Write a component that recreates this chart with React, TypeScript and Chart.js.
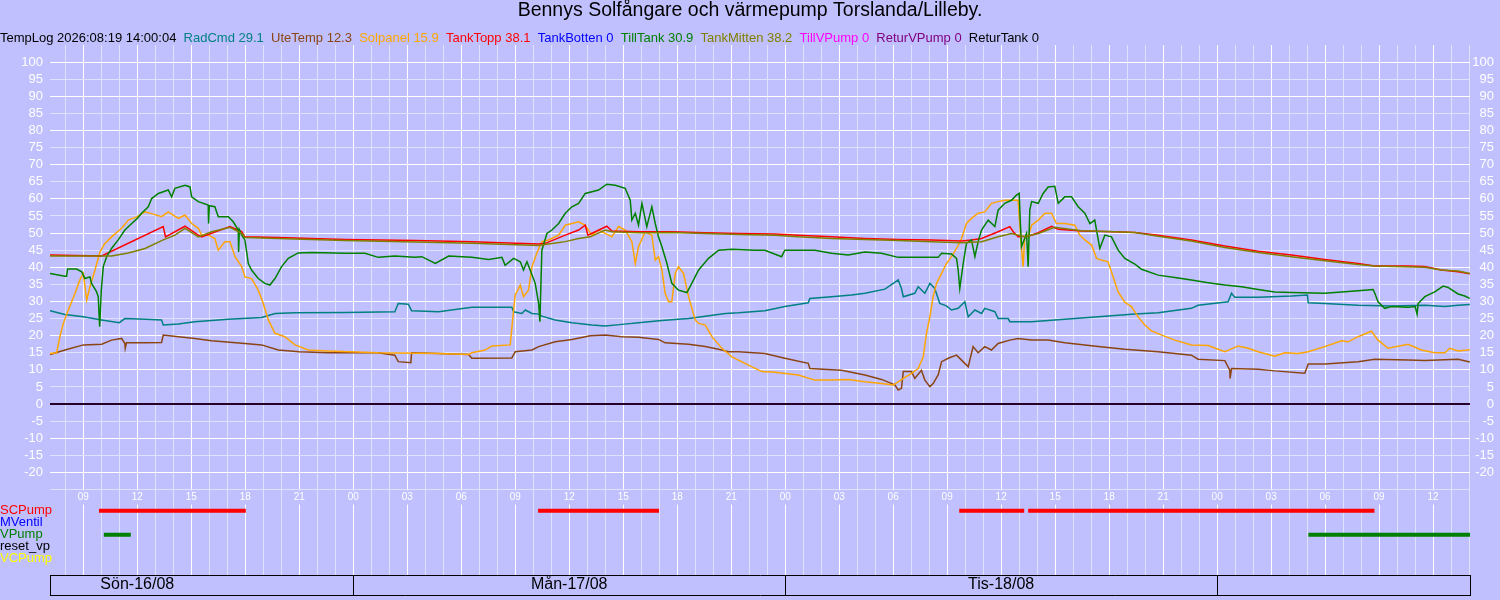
import React, { useEffect, useRef } from 'react';
import { Chart, registerables } from 'chart.js';

Chart.register(...registerables);

const FONT = "'Liberation Sans', Arial, sans-serif";
const BG = '#c0c0ff';
const GRID_MAJOR = '#ffffff';
const GRID_MINOR = '#e0e0ff';

const chartTitle = 'Bennys Solfångare och värmepump Torslanda/Lilleby.';
const logStamp = 'TempLog 2026:08:19 14:00:04';

// time axis: hours counted from Sön 16/08 00:00
const hourMin = 7.15;
const hourMax = 86.05;
const dayNames = ['Sön-16/08', 'Mån-17/08', 'Tis-18/08', ''];
const dayNoons = [12, 36, 60, 84];
const dayBounds = [24, 48, 72];

// [hour, °C]
const radCmd = [
  [7.15, 27.3], [7.98, 26.2], [9.0, 25.5], [10.02, 24.6], [11.0, 23.8], [11.31, 25.0], [12.43, 24.8], [13.35, 24.6], [13.44, 23.1],
  [14.28, 23.4], [15.2, 24.1], [17.06, 24.8], [18.91, 25.3], [19.65, 26.5], [20.76, 26.7], [23.54, 26.8], [26.31, 27.0], [26.5, 29.4],
  [27.06, 29.2], [27.24, 27.3], [28.74, 27.0], [30.59, 28.3], [32.81, 28.3], [32.91, 27.0], [33.37, 26.5], [33.56, 27.5], [33.93, 26.5],
  [34.3, 26.3], [34.48, 25.7], [35.22, 24.6], [36.15, 23.8], [37.26, 23.1], [38.0, 22.8], [38.93, 23.3], [39.85, 23.8], [41.15, 24.4],
  [42.63, 25.0], [43.56, 25.7], [44.67, 26.5], [45.41, 26.7], [46.87, 27.3], [47.98, 28.5], [49.28, 29.6], [49.37, 30.9], [50.57, 31.4],
  [51.69, 31.9], [52.43, 32.4], [53.54, 33.6], [54.28, 36.3], [54.46, 33.8], [54.56, 31.4], [55.2, 32.4], [55.39, 34.3], [55.76, 32.4],
  [56.04, 35.3], [56.31, 33.8], [56.59, 29.4], [56.96, 28.7], [57.24, 27.5], [57.61, 28.0], [57.98, 29.9], [58.17, 25.5], [58.54, 27.5],
  [58.91, 26.5], [59.09, 28.0], [59.65, 27.0], [59.83, 25.0], [60.39, 25.0], [60.48, 24.1], [61.69, 24.1], [63.54, 24.8], [65.39, 25.5],
  [67.43, 26.3], [68.72, 26.7], [70.57, 28.0], [70.94, 28.9], [72.61, 29.9], [72.8, 32.4], [72.98, 31.2], [74.28, 31.2], [76.13, 31.6],
  [77.02, 31.9], [77.06, 29.6], [77.98, 29.4], [79.83, 28.9], [81.69, 28.7], [83.54, 28.9], [84.65, 28.5], [85.39, 28.9], [86.04, 29.1],
];

const uteTemp = [
  [7.15, 14.5], [7.98, 15.8], [9.0, 17.3], [10.02, 17.5], [10.57, 18.7], [11.13, 19.2], [11.31, 17.7], [11.33, 16.3], [11.4, 17.9],
  [12.43, 17.9], [13.35, 18.0], [13.44, 20.2], [14.28, 19.7], [15.2, 19.2], [16.13, 18.5], [17.98, 17.7], [18.91, 17.3], [19.83, 15.8],
  [21.0, 15.3], [22.61, 15.0], [25.39, 15.0], [26.31, 14.3], [26.5, 12.4], [27.2, 12.1], [27.24, 15.0], [28.74, 14.8], [30.41, 14.5],
  [30.59, 13.4], [32.81, 13.5], [33.0, 15.3], [33.93, 15.8], [34.3, 16.8], [35.22, 18.2], [36.15, 18.9], [37.17, 20.0], [38.0, 20.2],
  [38.93, 19.7], [39.85, 19.5], [40.96, 18.9], [41.33, 17.9], [42.63, 17.5], [43.56, 16.8], [44.48, 15.8], [44.85, 15.3], [45.41, 15.3],
  [46.87, 14.8], [47.98, 13.4], [49.28, 11.9], [49.37, 10.4], [51.13, 9.9], [52.43, 8.5], [53.35, 7.2], [54.09, 5.6], [54.28, 4.1],
  [54.46, 4.6], [54.56, 9.5], [55.02, 9.5], [55.2, 7.5], [55.57, 9.9], [55.76, 7.0], [56.04, 5.1], [56.22, 6.0], [56.5, 8.5],
  [56.69, 12.4], [57.06, 13.4], [57.52, 14.3], [57.98, 11.9], [58.17, 10.9], [58.44, 16.8], [58.72, 15.0], [59.09, 16.8], [59.46, 15.8],
  [59.83, 17.7], [60.48, 18.7], [60.94, 19.2], [61.69, 18.7], [62.61, 18.7], [63.54, 17.9], [65.39, 16.8], [66.87, 16.0], [68.72, 15.3],
  [70.57, 14.3], [70.94, 13.1], [72.43, 12.7], [72.7, 9.9], [72.72, 7.5], [72.8, 10.4], [74.28, 10.2], [75.2, 9.7], [76.87, 9.0],
  [77.06, 11.7], [77.98, 11.7], [79.83, 12.4], [80.76, 13.1], [82.61, 12.9], [83.54, 12.7], [85.39, 13.1], [86.04, 12.3],
];

const solpanel = [
  [7.15, 14.8], [7.52, 15.0], [7.7, 19.7], [7.89, 23.6], [8.17, 27.5], [8.54, 32.4], [8.81, 36.3], [9.0, 38.2], [9.19, 30.4],
  [9.37, 34.3], [9.65, 39.2], [9.93, 44.5], [10.2, 47.0], [10.57, 48.9], [11.13, 51.4], [11.5, 53.8], [12.0, 54.8], [12.43, 56.2],
  [12.8, 55.7], [13.35, 54.8], [13.72, 56.2], [14.28, 54.3], [14.65, 55.3], [15.02, 52.8], [15.39, 51.4], [15.57, 49.4], [15.94, 49.4],
  [16.31, 48.4], [16.5, 45.0], [16.87, 47.5], [17.15, 47.5], [17.43, 43.1], [17.8, 40.2], [17.98, 37.2], [18.35, 36.7], [18.72, 33.3],
  [19.0, 29.4], [19.28, 24.6], [19.65, 20.7], [20.2, 19.7], [20.76, 17.3], [21.5, 15.8], [22.61, 15.5], [25.39, 15.0], [28.74, 14.8],
  [30.41, 14.5], [30.59, 15.0], [31.33, 15.8], [31.7, 17.0], [32.72, 17.3], [32.91, 27.5], [33.0, 31.9], [33.28, 34.8], [33.46, 31.4],
  [33.74, 33.3], [33.93, 40.2], [34.2, 44.1], [34.48, 47.5], [34.85, 48.0], [35.41, 49.4], [35.78, 52.3], [36.15, 52.8], [36.52, 53.3],
  [36.89, 52.3], [37.26, 49.4], [37.63, 50.9], [38.0, 49.9], [38.37, 48.9], [38.74, 51.9], [39.11, 50.9], [39.48, 47.5], [39.67, 41.1],
  [39.85, 46.0], [40.22, 50.4], [40.59, 49.4], [40.78, 42.1], [40.96, 43.1], [41.15, 39.2], [41.33, 32.4], [41.52, 29.9], [41.7, 29.9],
  [41.89, 38.2], [42.07, 40.2], [42.35, 38.2], [42.63, 31.4], [43.0, 24.6], [43.19, 23.6], [43.56, 23.1], [43.93, 19.7], [44.48, 16.3],
  [45.04, 13.8], [45.96, 11.4], [46.7, 9.5], [47.44, 9.3], [48.72, 8.5], [49.65, 7.0], [50.57, 7.0], [51.5, 7.2], [52.43, 6.5],
  [53.35, 6.0], [54.0, 5.6], [54.28, 6.5], [54.65, 7.8], [55.02, 9.0], [55.39, 10.4], [55.67, 13.8], [55.85, 20.7], [56.04, 25.5],
  [56.22, 31.4], [56.41, 35.3], [56.69, 38.2], [56.96, 41.1], [57.24, 43.1], [57.52, 45.5], [57.8, 48.4], [58.07, 52.8], [58.35, 54.3],
  [58.72, 55.8], [59.09, 56.2], [59.46, 58.7], [59.83, 59.2], [60.2, 59.6], [60.94, 59.6], [61.09, 48.0], [61.22, 40.2], [61.31, 48.9],
  [61.5, 48.9], [61.69, 52.3], [62.06, 53.8], [62.43, 55.8], [62.8, 55.8], [63.07, 52.8], [63.54, 52.8], [64.09, 52.3], [64.37, 49.4],
  [64.65, 48.0], [65.02, 46.5], [65.3, 42.6], [65.57, 42.1], [65.94, 41.6], [66.22, 37.2], [66.5, 32.8], [66.87, 29.8], [67.24, 28.5],
  [67.61, 25.5], [67.98, 23.1], [68.35, 21.4], [69.0, 20.0], [69.65, 18.7], [70.57, 17.3], [71.5, 17.1], [72.43, 15.3], [73.17, 17.0],
  [73.72, 16.3], [74.28, 15.3], [75.2, 14.0], [75.76, 15.0], [76.5, 14.8], [77.06, 15.3], [77.98, 16.8], [78.91, 18.5], [79.28, 18.2],
  [79.83, 19.7], [80.57, 21.3], [80.94, 18.7], [81.5, 16.3], [82.61, 17.5], [83.35, 15.8], [84.09, 15.0], [84.65, 15.0], [84.93, 16.3],
  [85.39, 15.5], [86.04, 15.9],
];

const tankTopp = [
  [7.15, 43.6], [10.02, 43.3], [13.44, 51.9], [13.57, 48.9], [14.65, 52.0], [15.39, 49.4], [15.57, 48.9], [17.15, 51.9], [17.8, 50.4],
  [17.98, 48.9], [19.83, 48.7], [23.54, 48.1], [27.43, 47.8], [30.59, 47.5], [34.3, 46.8], [34.67, 47.0], [35.78, 49.4], [36.52, 50.9],
  [36.89, 52.3], [37.04, 49.4], [38.09, 52.0], [38.37, 50.6], [39.85, 50.4], [41.7, 50.4], [43.56, 50.1], [45.41, 49.9], [47.44, 49.7],
  [48.72, 49.4], [50.57, 48.9], [52.43, 48.4], [54.28, 48.1], [56.13, 48.0], [57.8, 47.7], [58.35, 48.0], [58.91, 48.4], [59.83, 50.4],
  [60.48, 51.9], [60.67, 50.4], [60.94, 48.9], [61.5, 49.1], [62.06, 50.1], [62.8, 52.0], [63.17, 51.1], [64.46, 50.6], [66.31, 50.4],
  [67.43, 50.2], [68.72, 49.4], [70.57, 48.0], [72.43, 46.2], [74.28, 44.7], [76.13, 43.6], [77.98, 42.3], [79.83, 41.1], [80.76, 40.4],
  [82.61, 40.4], [83.54, 40.2], [84.46, 39.2], [85.39, 38.7], [86.04, 38.1],
];

const tankBotten = [[7.15, 0], [86.04, 0]];

const tillTank = [
  [7.15, 38.2], [7.98, 37.4], [8.07, 37.4], [8.13, 39.5], [8.63, 39.5], [8.91, 38.7], [9.09, 36.7], [9.37, 37.2], [9.46, 35.3],
  [9.74, 32.8], [9.83, 31.4], [9.91, 22.6], [10.0, 33.3], [10.11, 40.2], [10.3, 43.1], [10.57, 45.5], [10.94, 48.0], [11.31, 50.9],
  [11.69, 52.8], [12.0, 54.3], [12.24, 55.8], [12.61, 57.7], [12.8, 60.1], [13.17, 61.6], [13.72, 62.6], [13.91, 60.6], [14.09, 63.1],
  [14.65, 64.0], [14.93, 63.5], [15.02, 60.6], [15.39, 59.2], [15.94, 58.2], [15.96, 52.8], [16.0, 58.0], [16.31, 57.7], [16.5, 54.8],
  [17.06, 54.8], [17.33, 53.3], [17.61, 50.9], [17.63, 44.5], [17.67, 51.0], [17.8, 49.4], [17.98, 48.0], [18.17, 41.1], [18.35, 39.2],
  [18.72, 36.7], [19.09, 35.3], [19.37, 34.8], [19.65, 36.7], [20.02, 40.2], [20.39, 42.6], [20.94, 44.2], [21.69, 44.3], [23.54, 44.1],
  [24.65, 44.1], [25.39, 42.9], [26.31, 43.3], [27.43, 42.9], [27.81, 43.1], [28.56, 41.1], [29.3, 43.3], [30.59, 42.9], [31.52, 42.3],
  [32.26, 42.9], [32.44, 40.6], [32.91, 42.6], [33.28, 41.6], [33.46, 39.2], [33.65, 41.6], [33.83, 39.2], [34.11, 35.3], [34.3, 29.4],
  [34.37, 24.1], [34.48, 45.0], [34.76, 49.9], [35.04, 50.9], [35.41, 52.8], [35.78, 55.8], [36.15, 57.7], [36.52, 58.7], [36.89, 61.6],
  [37.63, 62.6], [38.09, 64.3], [38.56, 64.0], [39.11, 63.1], [39.39, 59.6], [39.48, 53.8], [39.67, 55.8], [39.85, 52.3], [40.04, 58.7],
  [40.31, 51.9], [40.59, 57.7], [40.78, 52.8], [40.96, 48.9], [41.15, 46.0], [41.43, 41.1], [41.7, 35.3], [42.07, 33.3], [42.54, 32.6],
  [42.81, 35.3], [43.19, 39.2], [43.74, 42.6], [44.3, 45.0], [45.04, 45.3], [46.33, 45.0], [46.87, 45.0], [47.8, 43.1], [47.98, 45.0],
  [49.65, 45.0], [50.57, 44.1], [51.5, 43.6], [52.43, 44.5], [53.35, 44.1], [54.28, 42.9], [56.5, 42.9], [56.69, 44.1], [57.24, 43.9],
  [57.52, 42.6], [57.61, 39.2], [57.7, 33.8], [57.89, 41.1], [58.07, 47.0], [58.35, 48.0], [58.54, 43.1], [58.72, 47.5], [58.91, 50.9],
  [59.28, 53.8], [59.65, 51.9], [59.83, 56.7], [60.2, 58.7], [60.57, 59.6], [60.85, 61.1], [61.0, 61.6], [61.06, 53.8], [61.13, 46.0],
  [61.41, 49.9], [61.5, 40.2], [61.59, 56.7], [61.69, 59.2], [62.06, 58.7], [62.33, 61.6], [62.61, 63.5], [62.98, 63.7], [63.17, 58.7],
  [63.54, 60.6], [63.91, 60.6], [64.28, 57.7], [64.65, 55.8], [64.93, 52.8], [65.2, 53.8], [65.48, 45.5], [65.76, 49.4], [66.13, 48.9],
  [66.5, 45.0], [66.87, 42.6], [67.43, 40.9], [67.8, 39.4], [68.72, 37.7], [69.65, 37.0], [70.57, 36.3], [71.5, 35.5], [72.43, 34.8],
  [73.35, 34.3], [74.28, 33.5], [75.2, 32.8], [76.13, 32.6], [77.98, 32.4], [79.83, 33.1], [80.67, 33.5], [80.76, 32.4], [80.94, 29.9],
  [81.31, 28.0], [81.69, 28.5], [82.61, 28.3], [83.0, 28.5], [83.11, 26.3], [83.17, 29.4], [83.54, 31.4], [84.09, 32.8], [84.56, 34.5],
  [84.83, 34.1], [85.39, 32.2], [85.76, 31.6], [86.04, 30.9],
];

const tankMitten = [
  [7.15, 43.3], [10.57, 43.3], [11.5, 44.2], [12.43, 45.5], [13.44, 48.0], [14.09, 49.4], [14.65, 51.4], [15.39, 48.9], [16.13, 50.4],
  [17.15, 51.7], [17.8, 49.9], [17.98, 48.7], [19.83, 48.4], [23.54, 47.8], [27.43, 47.4], [30.59, 47.0], [34.3, 46.4], [34.85, 46.8],
  [35.78, 47.5], [36.52, 48.4], [37.17, 48.9], [38.0, 50.9], [38.37, 50.4], [39.85, 50.1], [41.7, 50.2], [43.56, 49.9], [45.41, 49.6],
  [47.44, 49.4], [48.72, 48.9], [50.57, 48.4], [52.43, 48.1], [54.28, 47.8], [56.13, 47.5], [57.8, 47.2], [58.91, 47.5], [59.83, 48.9],
  [60.57, 49.9], [61.31, 48.9], [62.06, 49.9], [62.98, 51.7], [64.46, 50.7], [66.31, 50.4], [67.43, 50.2], [68.72, 49.1], [70.57, 47.7],
  [72.43, 45.8], [74.28, 44.3], [76.13, 43.1], [77.98, 41.9], [79.83, 40.8], [80.76, 40.4], [83.54, 40.0], [84.46, 39.2], [85.39, 38.9],
  [86.04, 38.2],
];

const tillVPump = [[7.15, 0], [86.04, 0]];
const returVPump = [[7.15, 0], [86.04, 0]];
const returTank = [[7.15, 0], [86.04, 0]];

const seriesNames = ['RadCmd', 'UteTemp', 'Solpanel', 'TankTopp', 'TankBotten', 'TillTank', 'TankMitten', 'TillVPump', 'ReturVPump', 'ReturTank'];
const seriesColors = ['#008080', '#8b4513', '#ffa500', '#ff0000', '#0000ff', '#008000', '#808000', '#ff00ff', '#800080', '#000000'];
const seriesData = [radCmd, uteTemp, solpanel, tankTopp, tankBotten, tillTank, tankMitten, tillVPump, returVPump, returTank];

// on/off status rows: [start hour, end hour]
const statusNames = ['SCPump', 'MVentil', 'VPump', 'reset_vp', 'VCPump'];
const statusColors = ['#ff0000', '#0000ff', '#008000', '#000000', '#ffff00'];
const scPumpOn = [[9.87, 18.03], [34.27, 40.99], [57.67, 61.28], [61.5, 80.74]];
const mVentilOn: number[][] = [];
const vPumpOn = [[10.14, 11.64], [77.07, 86.05]];
const resetVpOn: number[][] = [];
const vcPumpOn: number[][] = [];
const statusOn = [scPumpOn, mVentilOn, vPumpOn, resetVpOn, vcPumpOn];

const pad2 = (n: number) => String(n).padStart(2, '0');

export default function App() {
  const ref = useRef<HTMLCanvasElement | null>(null);

  useEffect(() => {
    document.body.style.margin = '0';
    const legendItems = [
      { text: logStamp + '  ', fontColor: '#000000' },
      ...seriesNames.map((n, i) => {
        const d = seriesData[i];
        return { text: `${n} ${d[d.length - 1][1]}  `, fontColor: seriesColors[i] };
      }),
    ].map((it, i) => ({
      ...it,
      fillStyle: 'rgba(0,0,0,0)',
      strokeStyle: 'rgba(0,0,0,0)',
      lineWidth: 0,
      hidden: false,
      datasetIndex: i,
    }));

    const datasets: any[] = [
      ...seriesData.map((d, i) => ({
        label: seriesNames[i],
        data: d.map(([x, y]) => ({ x, y })),
        borderColor: seriesColors[i],
        backgroundColor: seriesColors[i],
        borderWidth: 1.5,
        pointRadius: 0,
        tension: 0,
        fill: false,
        order: 20 - i,
        xAxisID: 'x',
        yAxisID: 'y',
      })),
      ...statusOn.map((segs, i) => ({
        label: statusNames[i],
        data: segs.flatMap(([a, b]) => [
          { x: a, y: i },
          { x: b, y: i },
          { x: b, y: null },
        ]),
        borderColor: statusColors[i],
        backgroundColor: statusColors[i],
        borderWidth: 4,
        borderCapStyle: 'butt',
        pointRadius: 0,
        spanGaps: false,
        order: 0,
        xAxisID: 'x',
        yAxisID: 'yS',
      })),
    ];

    const tempTickLabel = (v: any) => (v >= -20 && v <= 100 ? String(v) : '');

    const chart = new Chart(ref.current as HTMLCanvasElement, {
      type: 'line',
      data: { datasets },
      options: {
        responsive: false,
        animation: false,
        events: [],
        layout: { padding: 0 },
        plugins: {
          tooltip: { enabled: false },
          title: {
            display: true,
            text: chartTitle,
            color: '#000000',
            font: { size: 19.5, family: FONT, weight: 'normal', lineHeight: 1.13 },
            padding: { top: 0, bottom: 0 },
          },
          legend: {
            display: true,
            position: 'top',
            align: 'start',
            maxHeight: 23,
            labels: {
              boxWidth: -16,
              boxHeight: 0,
              padding: 9.5,
              font: { size: 13, family: FONT },
              generateLabels: () => legendItems as any,
            },
          },
        },
        scales: {
          x: {
            type: 'linear',
            position: { y: -25 } as any,
            min: hourMin,
            max: hourMax,
            bounds: 'data',
            afterBuildTicks: (s: any) => {
              const t: any[] = [];
              for (let h = Math.ceil(hourMin); h <= hourMax; h++) t.push({ value: h });
              s.ticks = t;
            },
            ticks: {
              autoSkip: false,
              maxRotation: 0,
              padding: 2,
              color: '#ffffff',
              font: { size: 10, family: FONT },
              callback: (v: any) => (v % 3 === 0 ? pad2(v % 24) : ''),
              showLabelBackdrop: true,
              backdropColor: (ctx: any) => (ctx.tick && ctx.tick.value % 3 === 0 ? BG : 'rgba(0,0,0,0)'),
              backdropPadding: { x: 1, y: 1 },
              z: 1,
            } as any,
            grid: {
              drawTicks: false,
              color: (ctx: any) => (ctx.tick && ctx.tick.value % 3 === 0 ? GRID_MAJOR : GRID_MINOR),
            },
            border: { display: false },
          },
          xDay: {
            type: 'linear',
            position: 'bottom',
            weight: 1,
            min: hourMin,
            max: hourMax,
            bounds: 'data',
            afterBuildTicks: (s: any) => {
              s.ticks = [hourMin, ...dayBounds, hourMax].map((v) => ({ value: v }));
            },
            afterFit: (s: any) => {
              s.height = 0;
            },
            ticks: { display: false },
            grid: {
              display: true,
              drawOnChartArea: false,
              drawTicks: true,
              tickLength: 20,
              tickColor: '#000000',
              tickWidth: 1,
              color: '#000000',
            },
            border: { display: true, color: '#000000', width: 1 },
          },
          xDayLabels: {
            type: 'linear',
            position: 'bottom',
            weight: 2,
            min: hourMin,
            max: hourMax,
            bounds: 'data',
            afterBuildTicks: (s: any) => {
              s.ticks = dayNoons.map((v) => ({ value: v }));
            },
            afterFit: (s: any) => {
              s.height = 20;
            },
            ticks: {
              autoSkip: false,
              maxRotation: 0,
              padding: 0,
              color: '#000000',
              font: { size: 16, family: FONT },
              callback: (_v: any, i: number) => dayNames[i],
            },
            grid: { display: false, drawTicks: false },
            border: { display: false },
          },
          xBottom: {
            type: 'linear',
            position: 'bottom',
            weight: 3,
            min: hourMin,
            max: hourMax,
            bounds: 'data',
            afterFit: (s: any) => {
              s.height = 5;
            },
            ticks: { display: false },
            grid: { display: true, drawOnChartArea: false, drawTicks: false, color: 'rgba(0,0,0,0)' },
            border: { display: true, color: '#000000', width: 1 },
          },
          y: {
            type: 'linear',
            position: 'left',
            weight: 0,
            min: -50,
            max: 105,
            afterFit: (s: any) => {
              s.width = 50;
            },
            ticks: {
              stepSize: 5,
              autoSkip: false,
              padding: 7,
              color: '#ffffff',
              font: { size: 13, family: FONT },
              callback: tempTickLabel,
            },
            grid: {
              drawTicks: false,
              color: (ctx: any) => {
                const v = ctx.tick ? ctx.tick.value : 0;
                if (v < -25 || v > 100) return 'rgba(0,0,0,0)';
                return v % 10 === 0 ? GRID_MAJOR : GRID_MINOR;
              },
            },
            border: { display: false },
          },
          yS: {
            type: 'linear',
            position: 'left',
            weight: 1,
            reverse: true,
            min: -38.81,
            max: 5.36,
            bounds: 'data',
            afterBuildTicks: (s: any) => {
              s.ticks = statusNames.map((_n, i) => ({ value: i }));
            },
            afterFit: (s: any) => {
              s.width = 0;
            },
            ticks: {
              autoSkip: false,
              mirror: true,
              crossAlign: 'near',
              padding: 0,
              font: { size: 13, family: FONT },
              color: (ctx: any) => statusColors[ctx.index] || '#000',
              callback: (_v: any, i: number) => statusNames[i],
            },
            grid: { display: false, drawTicks: false },
            border: { display: false },
          },
          yR: {
            type: 'linear',
            position: 'right',
            weight: 0,
            min: -50,
            max: 105,
            afterFit: (s: any) => {
              s.width = 24;
            },
            ticks: {
              stepSize: 5,
              autoSkip: false,
              crossAlign: 'far',
              color: '#ffffff',
              font: { size: 13, family: FONT },
              callback: tempTickLabel,
            },
            grid: { display: false, drawTicks: false },
            border: { display: false },
          },
          yPad: {
            type: 'linear',
            position: 'right',
            weight: 1,
            min: -50,
            max: 105,
            afterFit: (s: any) => {
              s.width = 6;
            },
            ticks: { display: false },
            grid: { display: false, drawTicks: false },
            border: { display: false },
          },
        } as any,
      },
    } as any);

    return () => chart.destroy();
  }, []);

  return (
    <div style={{ position: 'absolute', left: 0, top: 0, width: 1500, height: 600, background: BG }}>
      <canvas ref={ref} width={1500} height={600} style={{ display: 'block' }} />
    </div>
  );
}
